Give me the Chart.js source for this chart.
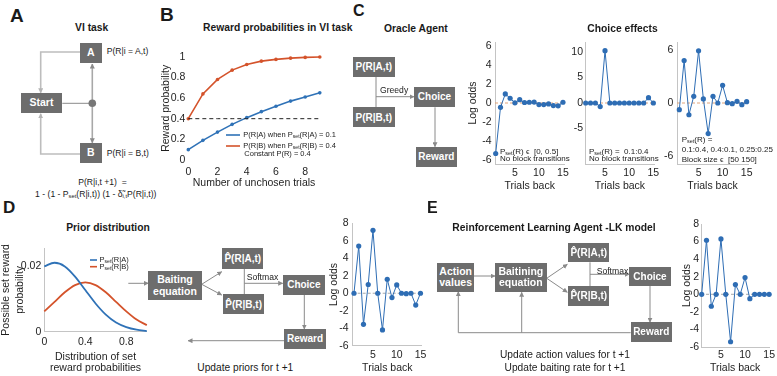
<!DOCTYPE html>
<html><head><meta charset="utf-8">
<script src="https://cdn.jsdelivr.net/npm/chart.js@4.4.1/dist/chart.umd.min.js"></script>
<style>
html,body{margin:0;padding:0;background:#fff;}
#root{position:relative;width:777px;height:376px;overflow:hidden;font-family:'Liberation Sans',Arial,Helvetica,sans-serif;color:#1a1a1a;}
.t{position:absolute;white-space:nowrap;line-height:1;z-index:3;}
.box{position:absolute;background:#6d6d6d;color:#fff;font-weight:bold;display:flex;align-items:center;justify-content:center;text-align:center;line-height:1.12;z-index:2;}
canvas{position:absolute;z-index:1;}
svg{position:absolute;left:0;top:0;z-index:0;}
sub{font-size:68%;vertical-align:-0.15em;line-height:0;}
</style></head><body><div id="root"><svg id="svg" width="777" height="376"></svg></div>
<script>
// ---------- DATA ----------
// Panel B: reward probabilities in VI task
const unchosenTrials = [0, 1, 2, 3, 4, 5, 6, 7, 8, 9];
const rewardProbA = [0.10, 0.19, 0.27, 0.345, 0.41, 0.468, 0.52, 0.57, 0.61, 0.65];
const rewardProbB = [0.40, 0.64, 0.78, 0.87, 0.925, 0.957, 0.974, 0.986, 0.993, 0.997];
const constantP = [0.4, 0.4, 0.4, 0.4, 0.4, 0.4, 0.4, 0.4, 0.4, 0.4];
const rewardProbTicks = [0, 0.2, 0.4, 0.6, 0.8, 1];
const unchosenTicks = [0, 2, 4, 6, 8];

// Panel C / D / E: choice effects (log odds vs trials back)
const trialsBack = [1, 2, 3, 4, 5, 6, 7, 8, 9, 10, 11, 12, 13, 14, 15];
const oracleUniform = [-5.3, -0.45, 0.95, 0.5, 0.02, 0.35, 0.05, 0.08, 0.1, -0.17, -0.17, -0.1, -0.27, -0.3, 0.08];
const oracleFixed = [0, 0, 0, -0.7, 10.3, 0, 0, 0, 0, 0, 0, 0, 0, 1.05, 0];
const oracleBlocks = [-0.76, 4.8, -1.33, 0.76, 5.9, 0.46, -3.46, 0.76, 0, 2.0, 0.04, -0.08, 0.19, -0.19, 0.15];
const bayesAgent = [0, 5.4, -3.55, 1.0, 7.2, 0, -4.2, 1.6, -0.5, 0.95, 0, -0.05, 0, -1.35, 0];
const rlAgent = [0, 6.15, -1.36, 0, 6.3, 0, -5.4, 1.1, 0, 1.9, -0.5, 0, 0, 0, 0];
const trialTicks = [5, 10, 15];
const oddsTicksC1 = [-6, -4, -2, 0, 2, 4, 6];
const oddsTicksC2 = [-5, 0, 5, 10];
const oddsTicksC3 = [-6, 0, 6];
const oddsTicksDE = [-6, -4, -2, 0, 2, 4, 6, 8];

// Panel D: prior distribution
const setRewardProb = [0, 0.1, 0.2, 0.3, 0.4, 0.5, 0.6, 0.7, 0.8, 0.9, 1.0];
const priorA = [0.0199, 0.021, 0.0199, 0.0168, 0.0127, 0.0086, 0.0052, 0.0028, 0.0014, 0.0006, 0.0002];
const priorB = [0.0062, 0.0091, 0.012, 0.0142, 0.015, 0.0142, 0.012, 0.0091, 0.0062, 0.0037, 0.002];
const priorYTicks = [0, 0.02];
const priorXTicks = [0, 0.4, 0.8];

// ---------- STYLE ----------
const FONT = "'Liberation Sans', Arial, Helvetica, sans-serif";
const BLUE = '#2f72b7', RED = '#d4532b', DOT = '#2e6db4';
Chart.defaults.font.family = FONT;
Chart.defaults.color = '#1e1e1e';
Chart.defaults.animation = false;

const zeroLine = {
  id: 'zeroLine',
  beforeDatasetsDraw(chart, args, opts) {
    if (!opts || !opts.color) return;
    const {ctx, chartArea: a, scales: {y}} = chart;
    const py = y.getPixelForValue(opts.value || 0);
    ctx.save();
    ctx.strokeStyle = opts.color; ctx.lineWidth = 1;
    ctx.setLineDash(opts.dash || [3, 2]);
    ctx.beginPath(); ctx.moveTo(a.left, py); ctx.lineTo(a.right, py); ctx.stroke();
    ctx.restore();
  }
};
Chart.register(zeroLine);

const root = document.getElementById('root');
const fmt = v => String(+(+v).toFixed(4));

function makeChart(o) {
  const {L, T, R, B} = o;
  const cv = document.createElement('canvas');
  cv.width = R - L; cv.height = B - T;
  cv.style.left = L + 'px'; cv.style.top = T + 'px';
  cv.style.width = (R - L) + 'px'; cv.style.height = (B - T) + 'px';
  root.appendChild(cv);
  const ts = o.titleSize || 10.5;
  const lhY = ts * (o.yTitleLH || 1.2), lhX = ts * (o.xTitleLH || 1.2);
  const padLeft = o.yTitle ? Math.max(0, o.yTitleX - lhY / 2 - L) : 0;
  const yW = o.plot.l - L - padLeft;
  const padBottom = o.xTitle ? Math.max(0, B - (o.xTitleY + lhX / 2)) : 0;
  const xH = B - padBottom - o.plot.b;
  const borderOn = o.border !== false;
  const axisCommon = (ax, ticks, pad) => ({
    type: 'linear', min: ax.min, max: ax.max,
    grid: {display: false, drawTicks: false},
    border: {display: borderOn, color: '#c4c4c4', width: 1},
    ticks: {font: {size: 10.5}, padding: pad, color: '#1e1e1e', callback: fmt},
    afterBuildTicks: s => { s.ticks = ticks.map(v => ({value: v})); }
  });
  const xs = axisCommon(o.x, o.x.ticks, o.x.pad);
  xs.afterFit = s => { s.height = xH; };
  xs.title = {display: !!o.xTitle, text: o.xTitle || '', padding: 0, color: '#1e1e1e',
    font: {size: ts, lineHeight: o.xTitleLH || 1.2}};
  const ys = axisCommon(o.y, o.y.ticks, o.y.pad);
  ys.afterFit = s => { s.width = yW; };
  ys.title = {display: !!o.yTitle, text: o.yTitle || '', padding: 0, color: '#1e1e1e',
    font: {size: ts, lineHeight: o.yTitleLH || 1.2}};
  return new Chart(cv, {
    type: 'line',
    data: {datasets: o.datasets},
    options: {
      responsive: false, animation: false, events: [],
      layout: {padding: {left: padLeft, top: o.plot.t - T, right: R - o.plot.r, bottom: padBottom}},
      plugins: {legend: {display: false}, tooltip: {enabled: false},
        zeroLine: o.zero ? {color: o.zero, value: 0, dash: [3, 2]} : false},
      scales: {x: xs, y: ys}
    }
  });
}
const pts = (xs, ys) => ys.map((v, i) => ({x: xs[i], y: v}));
const oddsSet = vals => [{data: pts(trialsBack, vals), borderColor: DOT, backgroundColor: DOT,
  borderWidth: 1, pointRadius: 2.6, pointBorderWidth: 0, pointHoverRadius: 0, tension: 0, clip: false}];

// Panel B chart
makeChart({L: 159, T: 46, R: 330, B: 190, plot: {l: 188.3, t: 56.7, r: 319.8, b: 160},
  yTitle: 'Reward probability', yTitleX: 166, xTitle: 'Number of unchosen trials', xTitleY: 183,
  x: {min: 0, max: 9, ticks: unchosenTicks, pad: 5.4}, y: {min: 0, max: 1, ticks: rewardProbTicks, pad: 3},
  border: false,
  datasets: [
    {data: pts(unchosenTrials, constantP), borderColor: '#222', borderWidth: 1, borderDash: [4, 3], pointRadius: 0, clip: false},
    {data: pts(unchosenTrials, rewardProbA), borderColor: BLUE, backgroundColor: BLUE, borderWidth: 1.6, pointRadius: 1.8, pointBorderWidth: 0, clip: false},
    {data: pts(unchosenTrials, rewardProbB), borderColor: RED, backgroundColor: RED, borderWidth: 1.6, pointRadius: 1.8, pointBorderWidth: 0, clip: false}
  ]});

// Panel C charts
makeChart({L: 467, T: 32, R: 574, B: 193, plot: {l: 495, t: 42, r: 564.4, b: 164},
  yTitle: 'Log odds', yTitleX: 473.3, xTitle: 'Trials back', xTitleY: 186,
  x: {min: 0.855, max: 15.3, ticks: trialTicks, pad: 3}, y: {min: -6.4, max: 6.4, ticks: oddsTicksC1, pad: 3.3},
  zero: '#e3a57a', datasets: oddsSet(oracleUniform)});
makeChart({L: 565, T: 32, R: 664, B: 193, plot: {l: 585, t: 42, r: 654.8, b: 164},
  xTitle: 'Trials back', xTitleY: 186,
  x: {min: 0.855, max: 15.3, ticks: trialTicks, pad: 3}, y: {min: -12, max: 12, ticks: oddsTicksC2, pad: 2},
  zero: '#e3a57a', datasets: oddsSet(oracleFixed)});
makeChart({L: 658, T: 32, R: 758, B: 193, plot: {l: 677, t: 42, r: 748.1, b: 164},
  xTitle: 'Trials back', xTitleY: 186,
  x: {min: 0.52, max: 15.3, ticks: trialTicks, pad: 3}, y: {min: -6.9, max: 6.9, ticks: oddsTicksC3, pad: 3.7},
  zero: '#e3a57a', datasets: oddsSet(oracleBlocks)});

// Panel D prior distribution
makeChart({L: 0, T: 238, R: 155, B: 375, plot: {l: 44.3, t: 248, r: 146.8, b: 331.7},
  yTitle: ['Possible set reward', 'probability'], yTitleX: 6.6, yTitleLH: 1.25,
  xTitle: ['Distribution of set', 'reward probabilities'], xTitleY: 368.3, xTitleLH: 1.1,
  x: {min: 0, max: 1, ticks: priorXTicks, pad: 3.7}, y: {min: 0, max: 0.0255, ticks: priorYTicks, pad: 3},
  datasets: [
    {data: pts(setRewardProb, priorA), borderColor: BLUE, borderWidth: 1.8, pointRadius: 0, cubicInterpolationMode: 'monotone', clip: false},
    {data: pts(setRewardProb, priorB), borderColor: RED, borderWidth: 1.8, pointRadius: 0, cubicInterpolationMode: 'monotone', clip: false}
  ]});

// Panel D log odds
makeChart({L: 327, T: 213, R: 432, B: 375, plot: {l: 352.7, t: 223, r: 421.9, b: 345.7},
  yTitle: 'Log odds', yTitleX: 334, xTitle: 'Trials back', xTitleY: 368.3,
  x: {min: 0.73, max: 15.3, ticks: trialTicks, pad: 3}, y: {min: -6, max: 8, ticks: oddsTicksDE, pad: 4},
  zero: '#a8a8a8', datasets: oddsSet(bayesAgent)});

// Panel E log odds
makeChart({L: 680, T: 214, R: 777, B: 375, plot: {l: 701, t: 224, r: 770, b: 347},
  yTitle: 'Log odds', yTitleX: 686.7, xTitle: 'Trials back', xTitleY: 368.3,
  x: {min: 0.86, max: 15.05, ticks: trialTicks, pad: 2}, y: {min: -6, max: 8, ticks: oddsTicksDE, pad: 2},
  zero: '#a8a8a8', datasets: oddsSet(rlAgent)});

// ---------- DIAGRAMS & TEXT ----------
function T(html, x, y, o = {}) {
  const d = document.createElement('div'); d.className = 't';
  const s = o.size || 10;
  d.innerHTML = html;
  d.style.fontSize = s + 'px';
  if (o.bold) d.style.fontWeight = 'bold';
  d.style.top = (y - s / 2) + 'px';
  d.style.left = x + 'px';
  if (o.align === 'center') d.style.transform = 'translateX(-50%)';
  root.appendChild(d);
}
function BOX(html, l, t, r, b, size = 10) {
  const d = document.createElement('div'); d.className = 'box';
  d.innerHTML = html;
  d.style.cssText += `left:${l}px;top:${t}px;width:${r - l}px;height:${b - t}px;font-size:${size}px;`;
  root.appendChild(d);
}
const svg = document.getElementById('svg');
const NS = 'http://www.w3.org/2000/svg';
svg.innerHTML = `<defs>
<marker id="ar" markerUnits="userSpaceOnUse" viewBox="0 0 10 10" refX="9" refY="5" markerWidth="5" markerHeight="5" orient="auto"><path d="M0,0 L10,5 L0,10 z" fill="#8a8a8a"/></marker>
<marker id="arL" markerUnits="userSpaceOnUse" viewBox="0 0 10 10" refX="9" refY="5" markerWidth="5" markerHeight="5" orient="auto"><path d="M0,0 L10,5 L0,10 z" fill="#b4b4b4"/></marker>
</defs>`;
function P(d, o = {}) {
  const p = document.createElementNS(NS, 'path');
  p.setAttribute('d', d); p.setAttribute('fill', 'none');
  p.setAttribute('stroke', o.c || '#8a8a8a'); p.setAttribute('stroke-width', o.w || 1);
  if (o.end) p.setAttribute('marker-end', `url(#${o.end})`);
  svg.appendChild(p);
}

// Panel letters
T('A', 10, 15, {size: 19, bold: true});
T('B', 160, 14.5, {size: 19, bold: true});
T('C', 353, 11, {size: 16, bold: true});
T('D', 3, 207.5, {size: 17, bold: true});
T('E', 427, 208.3, {size: 16, bold: true});

// Titles
T('VI task', 91.7, 28.3, {size: 10.3, bold: true, align: 'center'});
T('Reward probabilities in VI task', 277.8, 28.3, {size: 10.3, bold: true, align: 'center'});
T('Oracle Agent', 415.8, 29.3, {size: 10.3, bold: true, align: 'center'});
T('Choice effects', 622.5, 29.3, {size: 10.3, bold: true, align: 'center'});
T('Prior distribution', 108, 228.3, {size: 10.3, bold: true, align: 'center'});
T('Reinforcement Learning Agent -LK model', 554, 228.3, {size: 10.3, bold: true, align: 'center'});

// Panel A
P('M62.3,103.3 H90', {c: '#8a8a8a', w: 1});
P('M92.3,100 V64', {c: '#a8a8a8', w: 1.6, end: 'ar'});
P('M92.3,106.5 V142.8', {c: '#a8a8a8', w: 1.6, end: 'ar'});
P('M80,52 H40.7 V92.8', {c: '#bdbdbd', w: 1.6, end: 'arL'});
P('M80,154 H40.7 V113.8', {c: '#bdbdbd', w: 1.6, end: 'arL'});
{ const c = document.createElementNS(NS, 'circle'); c.setAttribute('cx', 92.3); c.setAttribute('cy', 103.3); c.setAttribute('r', 3.8); c.setAttribute('fill', '#777'); svg.appendChild(c); }
BOX('A', 80, 43.3, 101.7, 63.3, 10.5);
BOX('Start', 20.7, 93.3, 62.3, 113.3, 10.5);
BOX('B', 80, 143.3, 101.7, 163.3, 10.5);
T('P(R|i = A,t)', 106.7, 51.7, {size: 8.6});
T('P(R|i = B,t)', 106.7, 153.3, {size: 8.6});
T('P(R|i,t +1)&nbsp; =', 102.5, 182.7, {size: 8.6, align: 'center'});
T('1 - (1 - P<sub>set</sub>(R|i,t)) (1 - &delta;&#771;<sub>i,t</sub>P(R|i,t))', 95.8, 194.3, {size: 8.6, align: 'center'});

// Panel B legend
P('M226,135 H240', {c: BLUE, w: 1.6});
P('M226,146 H240', {c: RED, w: 1.6});
T('P(R|A) when P<sub>set</sub>(R|A) = 0.1', 243.3, 135, {size: 7.5});
T('P(R|B) when P<sub>set</sub>(R|B) = 0.4', 243.3, 146, {size: 7.5});
T('Constant P(R) = 0.4', 244.3, 154, {size: 7.5});

// Panel C diagram
P('M376,76.7 V107.3');
P('M376,96.7 H414', {end: 'ar'});
P('M435,107.3 V146.7', {end: 'ar'});
BOX('P(R|A,t)', 352.7, 56.7, 395, 76.7, 10);
BOX('P(R|B,t)', 352.7, 107.3, 395, 127.3, 10);
BOX('Choice', 414, 86.7, 455, 107.3, 10);
BOX('Reward', 416, 146.7, 456.7, 166.7, 10);
T('Greedy', 380, 90.7, {size: 8.6});

// Panel C annotations
T('P<sub>set</sub>(R) &#1013;&nbsp; [0, 0.5]', 500, 151.7, {size: 8});
T('No block transitions', 500, 159.3, {size: 8});
T('P<sub>set</sub>(R) =&nbsp; 0.1:0.4', 589, 151.7, {size: 8});
T('No block transitions', 589, 159.3, {size: 8});
T('P<sub>set</sub>(R) =', 681.7, 140, {size: 8});
T('0.1:0.4, 0.4:0.1, 0.25:0.25', 681.7, 150, {size: 8});
T('Block size &#1013;&nbsp; [50 150]', 681.7, 160, {size: 8});

// Panel D legend
P('M90,260 H97', {c: BLUE, w: 1.6});
P('M90,266.7 H97', {c: RED, w: 1.6});
T('P<sub>set</sub>(R|A)', 99.5, 260, {size: 7.5});
T('P<sub>set</sub>(R|B)', 99.5, 266.7, {size: 7.5});

// Panel D diagram
P('M128.3,283.3 H148.3', {end: 'ar'});
P('M201.7,284.3 L221.7,271.7', {end: 'ar'});
P('M201.7,284.3 L221.7,295', {end: 'ar'});
P('M244.3,269 V294');
P('M244.3,283.3 H282.7', {end: 'ar'});
P('M304.3,295 V329', {end: 'ar'});
P('M284.3,340.7 H188', {end: 'ar'});
BOX('Baiting<br>equation', 148.3, 271, 201.7, 300, 10.5);
BOX('P&#770;(R|A,t)', 222.3, 248.3, 263.3, 269, 10);
BOX('P&#770;(R|B,t)', 223.3, 294, 264, 314.3, 10);
BOX('Choice', 282.7, 275, 325, 295, 10);
BOX('Reward', 284.3, 329, 325.7, 349, 10);
T('Softmax', 246.7, 277.7, {size: 8.6});
T('Update priors for t +1', 197.3, 367.7, {size: 10.2});

// Panel E diagram
P('M474,276 H495', {end: 'ar'});
P('M546.7,278.3 L567.3,264.3', {end: 'ar'});
P('M546.7,278.3 L567.3,292.3', {end: 'ar'});
P('M590,262.3 V286');
P('M590,274.3 H629.3', {end: 'ar'});
P('M650,286 V322.3', {end: 'ar'});
P('M630.7,332.7 H458.3 V291.7', {end: 'ar'});
P('M521.7,332.7 V292.3', {end: 'ar'});
BOX('Action<br>values', 437.3, 263.3, 474, 291.7, 10.5);
BOX('Baitining<br>equation', 495, 262.7, 546.7, 292.3, 10.5);
BOX('P&#770;(R|A,t)', 568.3, 243.3, 609.3, 262.3, 10);
BOX('P&#770;(R|B,t)', 568.3, 286, 609.3, 305.7, 10);
BOX('Choice', 629.3, 266.7, 670.7, 286, 10);
BOX('Reward', 630.7, 322.3, 671.7, 341.7, 10);
T('Softmax', 596.7, 271, {size: 8.6});
T('Update action values for t +1', 565, 355, {size: 10.2, align: 'center'});
T('Update baiting rate for t +1', 565, 368.3, {size: 10.2, align: 'center'});
</script></body></html>
